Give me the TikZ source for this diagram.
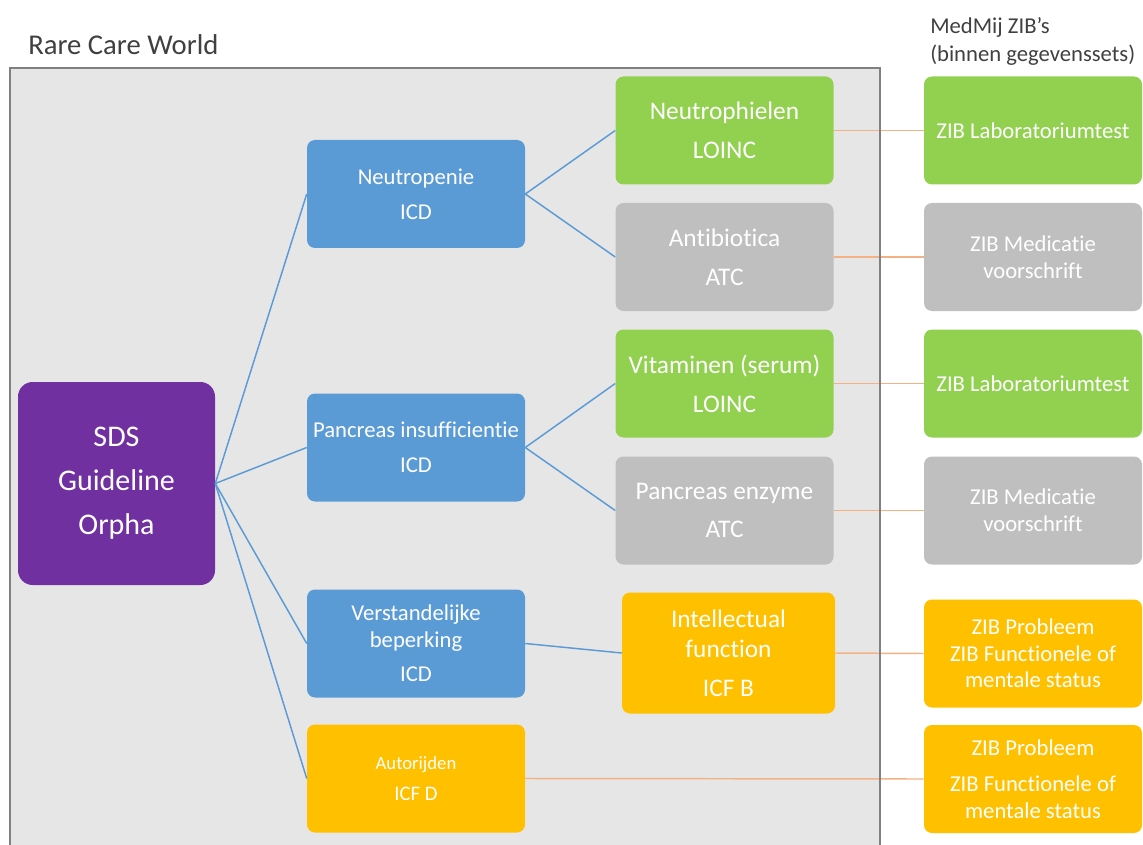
\documentclass[tikz,border=0pt]{standalone}
\usepackage{fontspec}
\setmainfont{Carlito}[Ligatures=NoCommon]
\usepackage{tikz}
\usepackage{xcolor}
\usetikzlibrary{shapes,arrows,positioning}
\definecolor{sdspurple}{RGB}{112, 48, 160}
\definecolor{icdblue}{RGB}{91, 155, 213}
\definecolor{loincgreen}{RGB}{146, 208, 80}
\definecolor{atcgray}{RGB}{191, 191, 191}
\definecolor{icfyellow}{RGB}{255, 192, 0}
\definecolor{ziborange}{RGB}{244, 177, 131}
\definecolor{framefill}{RGB}{231, 230, 230}
\definecolor{framegray}{RGB}{128, 128, 128}
\definecolor{textgray}{RGB}{64, 64, 64}
\tikzstyle{link} = [
    line width=1.1pt,
    draw=icdblue
]
\tikzstyle{zibline} = [
    line width=1.1pt,
    draw=ziborange
]
\tikzstyle{card} = [
    rectangle,
    rounded corners=6pt,
    minimum width=163.5pt,
    minimum height=81pt,
    text centered,
    align=center,
    text=white,
    inner sep=2pt,
    font=\fontsize{17}{20}\selectfont
]
\tikzstyle{big} = [
    font=\fontsize{19}{23}\selectfont
]

\begin{document}
\begin{tikzpicture}[x=0.75pt,y=-0.75pt]
    \useasboundingbox (0,0) rectangle (1143,845);
    % the world frame and the headings
    \fill[framefill] (10,68) rectangle (880,850);
    \node[anchor=base west, inner sep=0pt, text=textgray, font=\fontsize{21.5}{25}\selectfont] (world) at (28,55) {Rare Care World};
    \node[anchor=north west, inner sep=0pt, align=left, text=textgray, font=\fontsize{17}{21}\selectfont] (medmij) at (930,17) {MedMij ZIB’s\\(binnen gegevenssets)};

    % guideline
    \node[card, fill=sdspurple, minimum width=147.75pt, minimum height=152.25pt, rounded corners=11pt, font=\fontsize{22.5}{27}\selectfont] (sds) at (116.5,483.5) {SDS\\[6pt]Guideline\\[6pt]Orpha};

    % diagnoses
    \node[card, fill=icdblue] (neu) at (416,194) {Neutropenie\\[6.5pt]ICD};
    \node[card, fill=icdblue] (pan) at (416,447.5) {Pancreas insufficientie\\[6.5pt]ICD};
    \node[card, fill=icdblue] (ver) at (416,643.5) {Verstandelijke\\beperking\\[6pt]ICD};
    \node[card, fill=icfyellow, font=\fontsize{14}{17}\selectfont] (aut) at (416,778.5) {Autorijden\\[6pt]{\fontsize{15.5}{17}\selectfont ICF D}};

    % lab values, medication and functions
    \node[card, big, fill=loincgreen] (nph) at (724.5,130.5) {Neutrophielen\\[6pt]LOINC};
    \node[card, big, fill=atcgray] (abt) at (724.5,257) {Antibiotica\\[6pt]ATC};
    \node[card, big, fill=loincgreen] (vit) at (724.5,383.5) {Vitaminen (serum)\\[6pt]LOINC};
    \node[card, big, fill=atcgray] (enz) at (724.5,510.5) {Pancreas enzyme\\[6pt]ATC};
    \node[card, big, fill=icfyellow, minimum width=159.75pt, minimum height=90.75pt] (itf) at (728.5,653) {Intellectual\\function\\[6pt]ICF B};

    % zibs
    \node[card, fill=loincgreen] (zlab) at (1033,130.5) {ZIB Laboratoriumtest};
    \node[card, fill=atcgray] (zmed) at (1033,257) {ZIB Medicatie\\voorschrift};
    \node[card, fill=loincgreen] (zlabb) at (1033,383.5) {ZIB Laboratoriumtest};
    \node[card, fill=atcgray] (zmedb) at (1033,510.5) {ZIB Medicatie\\voorschrift};
    \node[card, fill=icfyellow] (zprob) at (1033,653.5) {ZIB Probleem\\ZIB Functionele of\\mentale status};
    \node[card, fill=icfyellow] (zprobb) at (1033,779) {ZIB Probleem\\[7pt]ZIB Functionele of\\mentale status};

    % guideline to diagnoses
    \draw[link] (sds.east) -- (neu.west);
    \draw[link] (sds.east) -- (pan.west);
    \draw[link] (sds.east) -- (ver.west);
    \draw[link] (sds.east) -- (aut.west);

    % diagnoses to codes
    \draw[link] (neu.east) -- (nph.west);
    \draw[link] (neu.east) -- (abt.west);
    \draw[link] (pan.east) -- (vit.west);
    \draw[link] (pan.east) -- (enz.west);
    \draw[link] (ver.east) -- (itf.west);

    % codes to zibs
    \draw[zibline] (nph.east) -- (zlab.west);
    \draw[zibline] (abt.east) -- (zmed.west);
    \draw[zibline] (vit.east) -- (zlabb.west);
    \draw[zibline] (enz.east) -- (zmedb.west);
    \draw[zibline] (itf.east) -- (zprob.west);
    \draw[zibline] (aut.east) -- (zprobb.west);

    % frame border on top
    \draw[framegray, line width=1.5pt] (10,850) |- (880,68) -- (880,850);
\end{tikzpicture}
\end{document}
